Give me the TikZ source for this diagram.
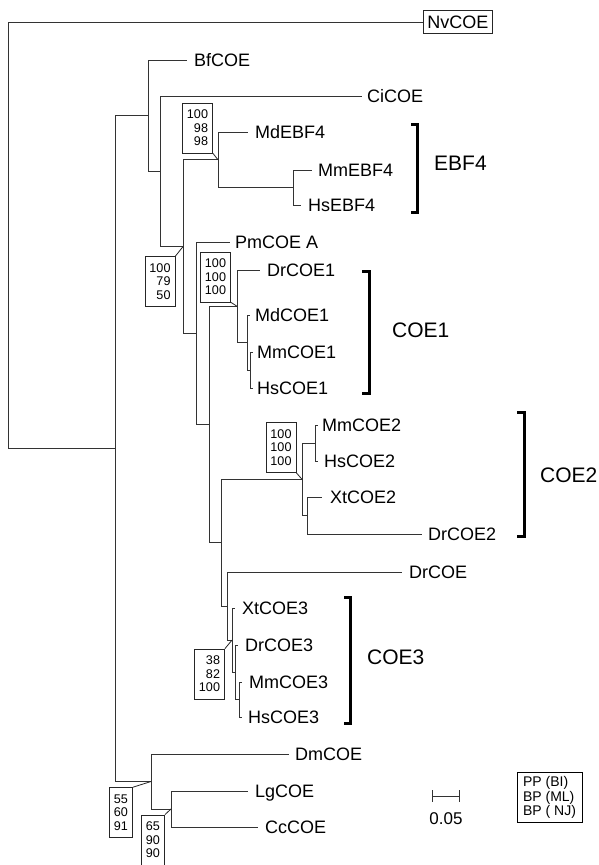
\documentclass[tikz,border=0pt]{standalone}
\usepackage{fontspec}
\setmainfont{Liberation Sans}
\begin{document}
\begin{tikzpicture}[x=1pt,y=-1pt,
  br/.style={draw=black!80, line width=1pt},
  leaf/.style={anchor=west, inner xsep=6pt, inner ysep=0pt, font=\fontsize{18}{20}\selectfont, text height=12.9pt, text depth=0pt},
  supbox/.style={draw=black!85, line width=0.8pt, align=right, font=\fontsize{12.6}{13.5}\selectfont, inner xsep=4.5pt, inner ysep=7pt},
  ptr/.style={draw=black!85, line width=0.8pt},
  clade/.style={anchor=west, font=\fontsize{21}{24}\selectfont, inner sep=0pt, text height=15pt, text depth=0pt},
  bracket/.style={draw=black, line width=3pt, line cap=butt, line join=miter}
]
\useasboundingbox (0,0) rectangle (599,865);
\fill[white] (0,0) rectangle (599,865);

% internal nodes
\coordinate (R0) at (8,448.6);
\coordinate (A) at (115,448.6);
\coordinate (B) at (148,115.6);
\coordinate (C) at (160,171.3);
\coordinate (D) at (183,246.6);
\coordinate (E) at (218,159.75);
\coordinate (F) at (293,187.5);
\coordinate (G) at (196,333.2);
\coordinate (H) at (209,424.4);
\coordinate (I) at (237,306.25);
\coordinate (J) at (247,342.5);
\coordinate (K) at (250,370);
\coordinate (L) at (221,542.6);
\coordinate (M) at (302,479.25);
\coordinate (T) at (315,443);
\coordinate (U) at (307,515.5);
\coordinate (N) at (227,606);
\coordinate (P) at (232,640.1);
\coordinate (Rn) at (235,672.25);
\coordinate (S) at (239,699.5);
\coordinate (V) at (151,781.5);
\coordinate (W) at (171,809);

% leaves
\node[draw=black!85, line width=0.8pt, anchor=west, inner xsep=4pt, inner ysep=5pt, font=\fontsize{18}{20}\selectfont, text height=12.9pt, text depth=0pt] (Nv) at (423,22) {NvCOE};
\node[leaf, inner xsep=7pt] (Bf) at (187,60) {BfCOE};
\node[leaf, inner xsep=5pt] (Ci) at (362,96) {CiCOE};
\node[leaf, inner xsep=7pt] (MdE) at (248,132) {MdEBF4};
\node[leaf] (MmE) at (312,170) {MmEBF4};
\node[leaf, inner xsep=7pt] (HsE) at (301,205) {HsEBF4};
\node[leaf, inner xsep=5pt] (Pm) at (230,242) {PmCOE A};
\node[leaf, inner xsep=7pt] (Dr1) at (260,270) {DrCOE1};
\node[leaf, inner xsep=5pt] (Md1) at (250,315) {MdCOE1};
\node[leaf, inner xsep=4pt] (Mm1) at (253,352) {MmCOE1};
\node[leaf, inner xsep=4pt] (Hs1) at (253,388) {HsCOE1};
\node[leaf, inner xsep=4pt] (Mm2) at (318,425) {MmCOE2};
\node[leaf] (Hs2) at (318,461) {HsCOE2};
\node[leaf, inner xsep=8pt] (Xt2) at (322,497) {XtCOE2};
\node[leaf] (Dr2) at (422,534) {DrCOE2};
\node[leaf, inner xsep=7pt] (DrC) at (402,572) {DrCOE};
\node[leaf, inner xsep=7pt] (Xt3) at (235,608) {XtCOE3};
\node[leaf, inner xsep=7pt] (Dr3) at (238,645) {DrCOE3};
\node[leaf, inner xsep=7pt] (Mm3) at (242,682) {MmCOE3};
\node[leaf] (Hs3) at (242,717) {HsCOE3};
\node[leaf] (Dm) at (289,754) {DmCOE};
\node[leaf, inner xsep=7pt] (Lg) at (248,791) {LgCOE};
\node[leaf, inner xsep=7pt] (Cc) at (258,827) {CcCOE};

% branches
\draw[br] (R0) |- (Nv.west);
\draw[br] (R0) -- (A);
\draw[br] (A) |- (B);  \draw[br] (A) |- (V);
\draw[br] (B) |- (Bf.west);  \draw[br] (B) |- (C);
\draw[br] (C) |- (Ci.west);  \draw[br] (C) |- (D);
\draw[br] (D) |- (E);  \draw[br] (D) |- (G);
\draw[br] (E) |- (MdE.west);  \draw[br] (E) |- (F);
\draw[br] (F) |- (MmE.west);  \draw[br] (F) |- (HsE.west);
\draw[br] (G) |- (Pm.west);  \draw[br] (G) |- (H);
\draw[br] (H) |- (I);  \draw[br] (H) |- (L);
\draw[br] (I) |- (Dr1.west);  \draw[br] (I) |- (J);
\draw[br] (J) |- (Md1.west);  \draw[br] (J) |- (K);
\draw[br] (K) |- (Mm1.west);  \draw[br] (K) |- (Hs1.west);
\draw[br] (L) |- (M);  \draw[br] (L) |- (N);
\draw[br] (M) |- (T);  \draw[br] (M) |- (U);
\draw[br] (T) |- (Mm2.west);  \draw[br] (T) |- (Hs2.west);
\draw[br] (U) |- (Xt2.west);  \draw[br] (U) |- (Dr2.west);
\draw[br] (N) |- (DrC.west);  \draw[br] (N) |- (P);
\draw[br] (P) |- (Xt3.west);  \draw[br] (P) |- (Rn);
\draw[br] (Rn) |- (Dr3.west);  \draw[br] (Rn) |- (S);
\draw[br] (S) |- (Mm3.west);  \draw[br] (S) |- (Hs3.west);
\draw[br] (V) |- (Dm.west);  \draw[br] (V) |- (W);
\draw[br] (W) |- (Lg.west);  \draw[br] (W) |- (Cc.west);

% support boxes
\node[supbox] (bE) at (197.5,128) {100\\98\\98};
\draw[ptr] (bE.south east) -- (E);
\node[supbox] (bD) at (160,281.5) {100\\79\\50};
\draw[ptr] (bD.north east) -- (D);
\node[supbox] (bI) at (215.5,277) {100\\100\\100};
\draw[ptr] (bI.south east) -- (I);
\node[supbox] (bM) at (281,447.5) {100\\100\\100};
\draw[ptr] (bM.south east) -- (M);
\node[supbox] (bP) at (209.5,674) {38\\82\\100};
\draw[ptr] (bP.north east) -- (P);
\node[supbox] (bV) at (121,812.5) {55\\60\\91};
\draw[ptr] (bV.north east) -- (V);
\node[supbox] (bW) at (153,840) {65\\90\\90};
\draw[ptr] (bW.north east) -- (W);

% clade brackets
\draw[bracket] (411,124) -- (417,124) -- (417,212) -- (411,212);
\node[clade] (cE) at (434,163) {EBF4};
\draw[bracket] (362,271) -- (369,271) -- (369,393) -- (362,393);
\node[clade] (c1) at (392,330) {COE1};
\draw[bracket] (517,412) -- (524.5,412) -- (524.5,536) -- (517,536);
\node[clade] (c2) at (540,475) {COE2};
\draw[bracket] (344,597) -- (350.5,597) -- (350.5,723) -- (344,723);
\node[clade] (c3) at (367,657) {COE3};

% scale bar
\coordinate (s1) at (432,796);
\coordinate (s2) at (459,796);
\draw[br] (s1) -- (s2);
\draw[br] ([yshift=6pt]s1) -- ([yshift=-6pt]s1);
\draw[br] ([yshift=6pt]s2) -- ([yshift=-6pt]s2);
\node[font=\fontsize{17}{20}\selectfont, inner sep=0pt] (sl) at (446,819) {0.05};

% legend
\node[draw=black, line width=0.9pt, align=left, font=\fontsize{14}{14.5}\selectfont, inner xsep=6pt, inner ysep=4pt] (leg) at (549.5,797.5) {PP (BI)\\BP (ML)\\BP ( NJ)};
\end{tikzpicture}
\end{document}
